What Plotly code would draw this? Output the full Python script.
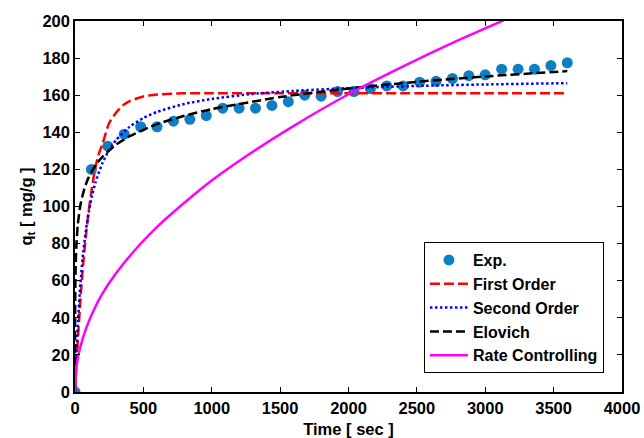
import plotly.graph_objects as go

# Experimental data
exp_t = [0, 120, 240, 360, 480, 600, 720, 840, 960, 1080, 1200, 1320, 1440, 1560, 1680,
         1800, 1920, 2040, 2160, 2280, 2400, 2520, 2640, 2760, 2880, 3000, 3120, 3240,
         3360, 3480, 3600]
exp_q = [0, 120, 132.5, 139, 143, 143, 146, 147, 149, 153, 153, 153, 154.5, 156.5, 160,
         159.5, 162, 162, 163.5, 165, 165, 167, 167.5, 169, 170.5, 171, 174, 174, 174,
         176, 177.5]

# First order model
fo_t = [0, 20, 40, 60, 80, 100, 125, 150, 175, 200, 250, 300, 350, 400, 500, 600, 800,
        1000, 1500, 2000, 2500, 3000, 3600]
fo_q = [0, 27, 50, 69, 84.5, 97.5, 110.5, 121.5, 128.5, 133.5, 145, 150.5, 154.5, 156.8,
        159.3, 160.4, 161, 161, 161, 161, 161, 161, 161]

# Second order model
so_t = [0, 10, 20, 40, 60, 80, 100, 125, 150, 200, 250, 300, 400, 500, 600, 800, 1000,
        1300, 1600, 2000, 2500, 3000, 3600]
so_q = [0, 19.9, 35.5, 58.8, 75.2, 87.4, 96.8, 105.9, 113.0, 123.3, 130.5, 135.8, 143.0,
        147.7, 151.0, 155.3, 158.0, 160.7, 162.3, 163.8, 165.0, 165.8, 166.5]

# Elovich model
el_t = [0, 0.5, 2, 5, 10, 20, 40, 70, 100, 150, 200, 300, 400, 600, 800, 1000, 1500,
        2000, 2500, 3000, 3600]
el_q = [0, 33.0, 53.7, 68.0, 78.9, 90.0, 101.0, 110.0, 115.7, 122.2, 126.8, 133.3, 137.9,
        144.4, 148.9, 152.5, 159.0, 163.6, 167.2, 170.1, 173.0]

# Rate controlling model
rc_t = [0, 5, 15, 40, 80, 130, 200, 300, 450, 600, 800, 1000, 1300, 1600, 2000, 2400,
        2800, 3200, 3600]
rc_q = [0, 9, 16, 24.5, 34, 43, 53, 64, 77.5, 89, 102, 114, 129.5, 143.5, 160.5, 175.5,
        189.5, 202.5, 215]

x_ticks = [0, 500, 1000, 1500, 2000, 2500, 3000, 3500, 4000]
y_ticks = [0, 20, 40, 60, 80, 100, 120, 140, 160, 180, 200]

FONT = "Liberation Sans, Arial, sans-serif"

fig = go.Figure()
fig.add_trace(go.Scatter(x=exp_t, y=exp_q, mode="markers", name="Exp.",
                         marker=dict(color="#0e7fc3", size=11)))
fig.add_trace(go.Scatter(x=fo_t, y=fo_q, mode="lines", name="First Order",
                         line=dict(color="#ff0000", width=2.5, dash="10px,4px",
                                   shape="spline", smoothing=0.6)))
fig.add_trace(go.Scatter(x=so_t, y=so_q, mode="lines", name="Second Order",
                         line=dict(color="#0000ff", width=2.5, dash="2.5px,2.5px",
                                   shape="spline", smoothing=0.6)))
fig.add_trace(go.Scatter(x=el_t, y=el_q, mode="lines", name="Elovich",
                         line=dict(color="#000000", width=2.5, dash="9px,4px",
                                   shape="spline", smoothing=0.6)))
fig.add_trace(go.Scatter(x=rc_t, y=rc_q, mode="lines", name="Rate Controlling",
                         line=dict(color="#ff00ff", width=2.5,
                                   shape="spline", smoothing=0.6)))

axis_common = dict(showgrid=False, zeroline=False, showline=True, linecolor="black",
                   linewidth=1.5, mirror="ticks", ticks="inside", ticklen=5,
                   tickcolor="black", tickwidth=1, automargin=False,
                   tickfont=dict(family=FONT, size=16.5, color="black", weight="bold"))

fig.update_layout(
    width=644, height=438,
    margin=dict(l=75, r=22, t=21, b=46),
    paper_bgcolor="white", plot_bgcolor="white",
    xaxis=dict(range=[0, 4000], tickvals=x_ticks, ticktext=[str(v) for v in x_ticks],
               title=dict(text="Time [ sec ]", standoff=8,
                          font=dict(family=FONT, size=16.5, color="black", weight="bold")),
               **axis_common),
    yaxis=dict(range=[0, 200], tickvals=y_ticks, ticktext=[str(v) for v in y_ticks],
               title=dict(text="q<sub>t</sub> [ mg/g ]", standoff=6,
                          font=dict(family=FONT, size=16.5, color="black", weight="bold")),
               **axis_common),
    legend=dict(x=0.967, y=0.051, xanchor="right", yanchor="bottom",
                bgcolor="white", bordercolor="black", borderwidth=1,
                itemwidth=38,
                font=dict(family=FONT, size=16, color="black", weight="bold")),
    showlegend=True,
)

fig.write_html("out.html")
